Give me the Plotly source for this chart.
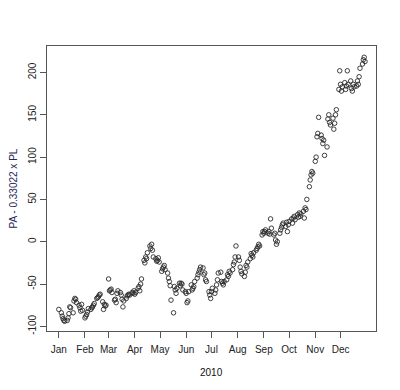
import pandas as pd
import plotly.graph_objects as go

month_labels = ["Jan", "Feb", "Mar", "Apr", "May", "Jun",
                "Jul", "Aug", "Sep", "Oct", "Nov", "Dec"]
month_starts = ["2010-01-01", "2010-02-01", "2010-03-01", "2010-04-01",
                "2010-05-01", "2010-06-01", "2010-07-01", "2010-08-01",
                "2010-09-01", "2010-10-01", "2010-11-01", "2010-12-01"]
month_ends = ["2010-01-31", "2010-02-28", "2010-03-31", "2010-04-30",
              "2010-05-31", "2010-06-30", "2010-07-31", "2010-08-31",
              "2010-09-30", "2010-10-31", "2010-11-30", "2010-12-30"]

jan = [-80, -84, -88, -91, -93, -94, -93, -90, -85, -77, -78, -84, -70, -67,
       -68, -72, -75, -78, -82, -74, -81]
feb = [-90, -88, -86, -83, -79, -80, -78, -77, -75, -73, -67, -66, -65, -63,
       -62, -71, -80, -74, -76, -75]
mar = [-44, -58, -57, -56, -60, -69, -68, -72, -61, -58, -60, -63, -68, -77,
       -70, -67, -64, -63, -62, -63, -60, -61, -58]
apr = [-62, -60, -55, -53, -58, -50, -44, -22, -25, -18, -20, -13, -5, -8,
       -3, -10, -18, -20, -23, -22, -19, -24]
may = [-35, -32, -30, -28, -33, -37, -43, -47, -52, -69, -84, -53, -57, -61,
       -55, -49, -52, -49, -50, -57, -59]
jun = [-61, -72, -70, -59, -51, -57, -55, -53, -47, -43, -39, -36, -33, -30,
       -31, -39, -37, -45, -47, -59, -63, -67]
jul = [-59, -55, -61, -57, -51, -45, -37, -36, -47, -49, -51, -47, -45, -39,
       -41, -35, -37, -33, -27, -24, -18, -5]
aug = [-18, -22, -30, -35, -38, -41, -36, -28, -30, -24, -20, -14, -16, -18,
       -13, -10, -8, -6, -3, -5, 8, 12]
sep = [10, 12, 14, 10, 12, 9, 27, 16, 8, 10, 2, -3, 0, 10, 14, 17, 20, 22,
       18, 23, 12, 20]
octo = [24, 27, 22, 28, 30, 26, 32, 29, 34, 30, 33, 36, 28, 40, 38, 50, 65,
        73, 79, 83, 81]
nov = [95, 100, 124, 128, 147, 126, 122, 116, 120, 102, 112, 145, 150, 141,
       138, 146, 133, 140, 150, 156, 180, 202]
dec = [186, 178, 183, 188, 180, 184, 202, 186, 190, 181, 178, 186, 183, 184,
       190, 186, 195, 205, 210, 215, 218, 213]

monthly_values = [jan, feb, mar, apr, may, jun, jul, aug, sep, octo, nov, dec]

y_ticks = [-100, -50, 0, 50, 100, 150, 200]

dates = []
values = []
for start, end, vals in zip(month_starts, month_ends, monthly_values):
    d = pd.bdate_range(start, end)
    n = min(len(d), len(vals))
    dates.extend(list(d[:n]))
    values.extend(vals[:n])

font_family = "Liberation Sans, Arial, sans-serif"

fig = go.Figure(
    go.Scatter(
        x=dates, y=values, mode="markers",
        marker=dict(symbol="circle-open", size=4.5, color="#2a2a2a",
                    line=dict(width=0.9, color="#2a2a2a")),
        hoverinfo="skip",
    )
)

# the page body adds an 8px margin, so the figure is 8px smaller and the
# plot area lands at x 47-376, y 46-331 of the window
fig.update_layout(
    width=392, height=382,
    margin=dict(l=39, r=24, t=38, b=59),
    paper_bgcolor="white", plot_bgcolor="white",
    showlegend=False,
    font=dict(family=font_family, size=10, color="#222222"),
    xaxis=dict(
        type="date", range=["2009-12-18", "2011-01-12"],
        tickvals=month_starts, ticktext=month_labels,
        ticks="outside", ticklen=6, tickcolor="#555555", tickwidth=1,
        ticklabelstandoff=3,
        showline=True, linecolor="#555555", linewidth=1, mirror=True,
        showgrid=False, zeroline=False,
        tickfont=dict(size=10, color="#222222"),
    ),
    yaxis=dict(
        range=[-105.5, 231.3],
        tickvals=y_ticks, ticktext=[str(v) for v in y_ticks],
        tickangle=-90,
        ticks="outside", ticklen=6, tickcolor="#555555", tickwidth=1,
        showline=True, linecolor="#555555", linewidth=1, mirror=True,
        showgrid=False, zeroline=False,
        tickfont=dict(size=10, color="#222222"),
    ),
    annotations=[
        dict(text="2010", xref="paper", yref="paper", x=0.5, y=0,
             xanchor="center", yanchor="middle", yshift=-41, showarrow=False,
             font=dict(size=10, color="#111111")),
        dict(text="PA - 0.33022 x PL", xref="paper", yref="paper", x=0,
             y=0.5, xanchor="center", yanchor="middle", xshift=-34,
             textangle=-90, showarrow=False,
             font=dict(size=10, color="#27275a")),
    ],
)

fig.write_html("out.html")
